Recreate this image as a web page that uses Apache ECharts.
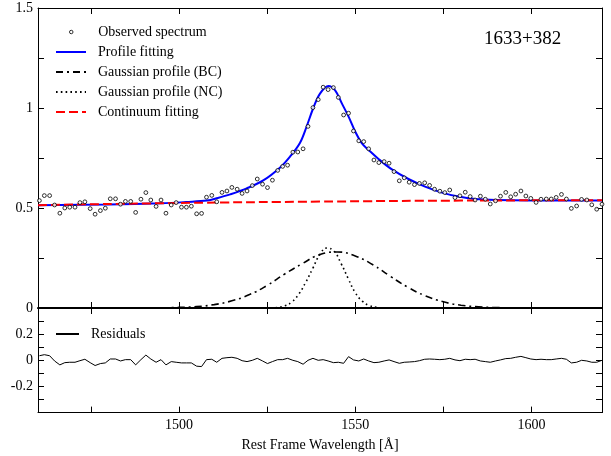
<!DOCTYPE html>
<html><head><meta charset="utf-8">
<script src="https://cdn.jsdelivr.net/npm/echarts@6/dist/echarts.min.js"></script>
<style>html,body{margin:0;padding:0;background:#fff}#c{width:611px;height:456px}</style>
</head><body><div id="c"></div>
<script>
// ---- data ----
const wavelength = [1460.4,1461.8,1463.3,1464.7,1466.2,1467.6,1469.0,1470.5,1471.9,1473.3,
1474.8,1476.2,1477.7,1479.1,1480.5,1482.0,1483.4,1484.8,1486.3,1487.7,
1489.2,1490.6,1492.0,1493.5,1494.9,1496.3,1497.8,1499.2,1500.7,1502.1,
1503.5,1505.0,1506.4,1507.8,1509.3,1510.7,1512.2,1513.6,1515.0,1516.5,
1517.9,1519.3,1520.8,1522.2,1523.7,1525.1,1526.5,1528.0,1529.4,1530.8,
1532.3,1533.7,1535.2,1536.6,1538.0,1539.5,1540.9,1542.3,1543.8,1545.2,
1546.7,1548.1,1549.5,1551.0,1552.4,1553.8,1555.3,1556.7,1558.2,1559.6,
1561.0,1562.5,1563.9,1565.3,1566.8,1568.2,1569.7,1571.1,1572.5,1574.0,
1575.4,1576.8,1578.3,1579.7,1581.2,1582.6,1584.0,1585.5,1586.9,1588.3,
1589.8,1591.2,1592.7,1594.1,1595.5,1597.0,1598.4,1599.8,1601.3,1602.7,
1604.2,1605.6,1607.0,1608.5,1609.9,1611.3,1612.8,1614.2,1615.7,1617.1,
1618.5,1620.0];
const observed = [0.537,0.562,0.562,0.515,0.474,0.50,0.504,0.504,0.527,0.531,
0.497,0.469,0.487,0.499,0.546,0.546,0.519,0.533,0.533,0.478,
0.544,0.577,0.54,0.508,0.54,0.474,0.515,0.527,0.504,0.504,
0.509,0.471,0.473,0.554,0.563,0.531,0.578,0.585,0.603,0.594,
0.573,0.585,0.612,0.645,0.619,0.602,0.639,0.688,0.708,0.714,
0.779,0.78,0.796,0.908,1.002,1.042,1.104,1.092,1.102,1.053,
0.965,0.974,0.885,0.836,0.832,0.796,0.74,0.727,0.732,0.724,
0.682,0.636,0.651,0.629,0.617,0.623,0.626,0.613,0.594,0.584,
0.577,0.59,0.552,0.561,0.579,0.557,0.54,0.559,0.544,0.52,
0.536,0.559,0.578,0.556,0.569,0.585,0.56,0.548,0.528,0.544,
0.545,0.545,0.553,0.568,0.545,0.498,0.51,0.543,0.54,0.516,
0.494,0.519];
const residuals = [0.035,0.043,0.035,-0.005,-0.035,-0.018,-0.015,-0.015,-0.003,0.008,
-0.018,-0.04,-0.025,-0.02,0.01,0.01,-0.005,0.005,0.005,-0.035,
0.005,0.04,0.01,-0.015,0.005,-0.035,-0.01,-0.015,-0.02,-0.02,
-0.02,-0.045,-0.048,0.005,0.008,-0.015,0.015,0.02,0.023,0.015,
-0.003,-0.01,0,0.015,-0.005,-0.025,-0.01,0.005,0.005,0.015,
0,-0.01,-0.03,0,0.015,0,0.005,
-0.005,-0.018,-0.015,-0.023,0.028,0.003,-0.005,0.01,-0.005,-0.018,
-0.015,-0.005,0.003,-0.01,-0.023,-0.015,-0.013,-0.01,-0.003,0.008,
0.01,0.008,0.005,0.008,0.015,0.003,-0.003,0.008,0.005,0.008,
-0.005,-0.01,-0.015,-0.005,0.003,0.013,0.015,0.023,0.03,0.02,
0.01,0.005,0.008,0.005,0.005,0.01,0.015,0.008,-0.02,-0.015,
0,-0.005,-0.015,-0.015,0];
const profileX = [1460,1480,1495,1502,1508,1511,1514.5,1519.2,1523.9,1528.7,1531.5,1534.3,1536.2,1538.1,1540,1542.4,1544.3,1546.2,1548.1,1550,1551.9,1553.8,1556.6,1560.4,1565.1,1569.8,1574.6,1579.3,1584,1590,1600,1620];
const profileY = [0.514,0.518,0.524,0.530,0.537,0.55,0.568,0.598,0.638,0.703,0.757,0.825,0.907,1.0,1.072,1.11,1.088,1.023,0.957,0.882,0.823,0.79,0.745,0.693,0.645,0.607,0.577,0.557,0.545,0.54,0.538,0.538];
const continuumX = [1460,1500,1540,1580,1620];
const continuumY = [0.514,0.525,0.532,0.537,0.539];
const bcX = [1490,1495,1500,1505,1510,1515,1520,1525,1530,1535,1540,1545,1550,1555,1560,1565,1570,1575,1580,1585,1590,1595,1600];
const bcY = [0,0.001,0.003,0.007,0.017,0.036,0.067,0.113,0.17,0.222,0.267,0.28,0.26,0.216,0.158,0.103,0.06,0.031,0.014,0.006,0.002,0.001,0];
const ncX = [1526,1528,1530,1532,1534,1536,1538,1540,1542,1544,1546,1548,1550,1552,1554,1556,1558];
const ncY = [0,0.003,0.011,0.03,0.07,0.13,0.2,0.268,0.3,0.283,0.222,0.147,0.077,0.034,0.012,0.004,0];
const xTickValues = [1475,1500,1525,1550,1575,1600];
const xLabelValues = [1500,1550,1600];
const yTopTicks = [0.25,0.5,0.75,1,1.25];
const yTopLabels = [0,0.5,1,1.5];
const yBotTicks = [-0.3,-0.2,-0.1,0,0.1,0.2,0.3];
const yBotLabels = [-0.2,0,0.2];

const FONT = 'Liberation Serif';
const pair = (xs, ys) => xs.map((x, i) => [x, ys[i]]);
const txt = {fontFamily: FONT, fontSize: 14, color: '#000'};

function xAx(grid, pos, labels, lw, extra) {
  return Object.assign({
    type: 'value', gridIndex: grid, position: pos, min: 1460, max: 1620,
    splitLine: {show: false},
    axisLine: {show: true, onZero: false, lineStyle: {color: '#000', width: lw}},
    axisTick: {show: true, inside: true, length: 6, customValues: xTickValues, lineStyle: {color: '#000'}},
    axisLabel: Object.assign({show: labels, customValues: xLabelValues, margin: 6, formatter: v => String(v)}, txt)
  }, extra || {});
}
function yAx(grid, pos, min, max, ticks, labels, show) {
  return {
    type: 'value', gridIndex: grid, position: pos, min: min, max: max,
    splitLine: {show: false},
    axisLine: {show: true, onZero: false, lineStyle: {color: '#000', width: 1}},
    axisTick: {show: true, inside: true, length: 6, customValues: ticks, lineStyle: {color: '#000'}},
    axisLabel: Object.assign({show: show, customValues: labels, margin: 5, formatter: v => String(v)}, txt)
  };
}
const legendText = Object.assign({padding: [0, 0, 0, 7]}, txt);
const hideSymbol = {opacity: 0, color: 'transparent', borderWidth: 0};

const chart = echarts.init(document.getElementById('c'), null, {renderer: 'canvas'});
chart.setOption({
  animation: false,
  backgroundColor: '#fff',
  title: {text: '1633+382', left: 484, top: 30, padding: 0,
    textStyle: {fontFamily: FONT, fontSize: 19, fontWeight: 'normal', color: '#000'}},
  grid: [
    {left: 38, top: 8, width: 564, height: 300},
    {left: 38, top: 308, width: 564, height: 104.6}
  ],
  xAxis: [
    xAx(0, 'bottom', false, 2),
    xAx(0, 'top', false, 1),
    xAx(1, 'bottom', true, 1, {name: 'Rest Frame Wavelength [Å]', nameLocation: 'middle', nameGap: 26, nameTextStyle: txt}),
    xAx(1, 'top', false, 1)
  ],
  yAxis: [
    yAx(0, 'left', 0, 1.5, yTopTicks, yTopLabels, true),
    yAx(0, 'right', 0, 1.5, yTopTicks, yTopLabels, false),
    yAx(1, 'left', -0.4, 0.4, yBotTicks, yBotLabels, true),
    yAx(1, 'right', -0.4, 0.4, yBotTicks, yBotLabels, false)
  ],
  legend: [
    {data: [{name: 'Observed spectrum', icon: 'circle', itemStyle: {color: '#fff', borderColor: '#000', borderWidth: 1}}],
     left: 69, top: 25, orient: 'vertical', itemWidth: 30, itemHeight: 3.5, padding: 0, selectedMode: false,
     textStyle: legendText},
    {data: ['Profile fitting', 'Gaussian profile (BC)', 'Gaussian profile (NC)', 'Continuum fitting'],
     left: 55, top: 45, orient: 'vertical', itemWidth: 30, itemHeight: 14, itemGap: 6, padding: 0, selectedMode: false,
     itemStyle: hideSymbol, textStyle: legendText},
    {data: ['Residuals'], left: 55, top: 327, orient: 'vertical', itemWidth: 23, itemHeight: 14, padding: 0, selectedMode: false,
     itemStyle: hideSymbol, textStyle: legendText}
  ],
  series: [
    {name: 'Profile fitting', type: 'line', xAxisIndex: 0, yAxisIndex: 0, data: pair(profileX, profileY),
     symbol: 'none', smooth: 0.35, z: 2, lineStyle: {color: '#0000ff', width: 2}, itemStyle: {color: '#0000ff'}},
    {name: 'Continuum fitting', type: 'line', xAxisIndex: 0, yAxisIndex: 0, data: pair(continuumX, continuumY),
     symbol: 'none', smooth: true, z: 3, lineStyle: {color: '#ff0000', width: 2, type: [9, 4]}, itemStyle: {color: '#ff0000'}},
    {name: 'Gaussian profile (BC)', type: 'line', xAxisIndex: 0, yAxisIndex: 0, data: pair(bcX, bcY),
     symbol: 'none', smooth: true, z: 3, lineStyle: {color: '#000', width: 1.6, type: [7, 4, 2, 4]}, itemStyle: {color: '#000'}},
    {name: 'Gaussian profile (NC)', type: 'line', xAxisIndex: 0, yAxisIndex: 0, data: pair(ncX, ncY),
     symbol: 'none', smooth: true, z: 3, lineStyle: {color: '#000', width: 1.6, type: [1.6, 3.2]}, itemStyle: {color: '#000'}},
    {name: 'Observed spectrum', type: 'scatter', xAxisIndex: 0, yAxisIndex: 0, data: pair(wavelength, observed),
     symbol: 'circle', symbolSize: 3.8, z: 5, itemStyle: {color: '#fff', borderColor: '#000', borderWidth: 1}},
    {name: 'Residuals', type: 'line', xAxisIndex: 2, yAxisIndex: 2, data: pair(wavelength, residuals),
     symbol: 'none', z: 3, lineStyle: {color: '#000', width: 1}, itemStyle: {color: '#000'}}
  ]
});
</script></body></html>
